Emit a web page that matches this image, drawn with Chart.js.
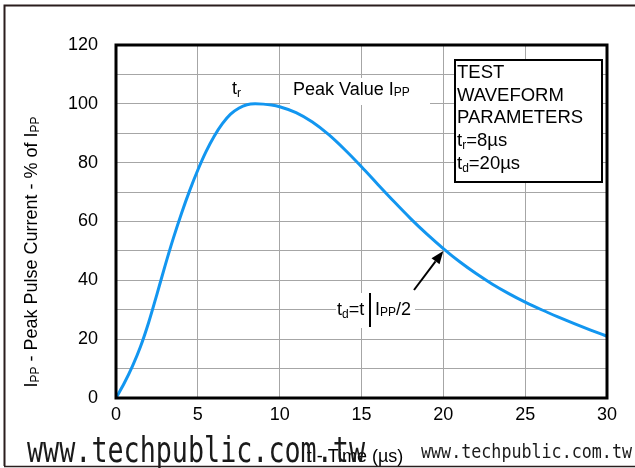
<!DOCTYPE html>
<html>
<head>
<meta charset="utf-8">
<script src="https://cdn.jsdelivr.net/npm/chart.js@4.4.1/dist/chart.umd.min.js"></script>
<style>
html,body{margin:0;padding:0;background:#fff;}
canvas{display:block;}
</style>
</head>
<body>
<canvas id="c" width="635" height="468"></canvas>
<script>
// ---- data ----
const times  = [0, 0.5, 1, 1.5, 2, 2.5, 3, 3.5, 4, 4.5, 5, 5.5, 6, 6.5, 7, 7.5, 8, 8.5, 9, 9.5, 10, 11, 12, 13, 14, 15, 16, 17, 18, 19, 20, 21, 22, 23, 24, 25, 26, 27, 28, 29, 30];
const values = [0, 5, 10.75, 17.5, 25.75, 35.25, 45, 54.25, 62.75, 70.5, 77.5, 83.75, 89, 93.25, 96.5, 98.5, 99.7, 100, 99.9, 99.6, 99, 97, 93.8, 89.5, 84.3, 78.6, 72.6, 66.7, 61, 55.7, 50.8, 46.3, 42.3, 38.7, 35.5, 32.6, 30, 27.6, 25.3, 23.1, 21];
const xTickValues = [0, 5, 10, 15, 20, 25, 30];
const yTickLabels = [0, 20, 40, 60, 80, 100, 120];
const boxLines = ["TEST", "WAVEFORM", "PARAMETERS"];
const riseTime = "8µs";
const decayTime = "20µs";

const FONT = "'Liberation Sans', Arial, sans-serif";

function rich(ctx, x, y, segs, align) {
  let w = 0;
  segs.forEach(s => { ctx.font = s[1] + "px " + FONT; w += ctx.measureText(s[0]).width; });
  let cx = align === 'center' ? x - w / 2 : x;
  segs.forEach(s => {
    ctx.font = s[1] + "px " + FONT;
    ctx.fillText(s[0], cx, y + (s[2] || 0));
    cx += ctx.measureText(s[0]).width;
  });
  return w;
}

function watermark(ctx, text, x, baseline, size, targetW, sy) {
  ctx.save();
  ctx.font = size + "px 'DejaVu Sans Mono', monospace";
  const mw = ctx.measureText(text).width;
  ctx.translate(x, baseline);
  ctx.scale(targetW / mw, sy);
  ctx.fillStyle = '#1a1a1a';
  ctx.textAlign = 'left';
  ctx.textBaseline = 'alphabetic';
  ctx.fillText(text, 0, 0);
  ctx.restore();
}

const deco = {
  id: 'deco',
  beforeDatasetsDraw(chart) {
    const ctx = chart.ctx;
    ctx.save();
    ctx.fillStyle = '#fff';
    ctx.fillRect(290, 78, 140, 27);
    ctx.fillRect(336, 293, 79, 35);
    ctx.fillStyle = '#000';
    ctx.textBaseline = 'alphabetic';
    rich(ctx, 232, 94, [["t", 18, 0], ["r", 12, 3]]);
    rich(ctx, 293, 95, [["Peak Value I", 18, 0], ["PP", 12, 1]]);
    rich(ctx, 337, 315, [["t", 18, 0], ["d", 12, 3], ["=t", 18, 0]]);
    ctx.fillRect(369, 293, 2, 34);
    rich(ctx, 375, 315, [["I", 18, 0], ["PP", 12, 1], ["/2", 18, 0]]);
    ctx.restore();
  },
  afterDraw(chart) {
    const ctx = chart.ctx;
    const a = chart.chartArea;
    const xs = chart.scales.x, ys = chart.scales.y;
    ctx.save();
    ctx.strokeStyle = '#000';
    ctx.lineWidth = 3;
    ctx.strokeRect(a.left, a.top, a.right - a.left, a.bottom - a.top);

    // arrow to half value point
    const tx = xs.getPixelForValue(20), ty = ys.getPixelForValue(50);
    const sx = 414, sy = 290;
    const ang = Math.atan2(ty - sy, tx - sx);
    const hl = 13, hw = 5;
    const bx = tx - hl * Math.cos(ang), by = ty - hl * Math.sin(ang);
    ctx.lineWidth = 2;
    ctx.beginPath(); ctx.moveTo(sx, sy); ctx.lineTo(bx, by); ctx.stroke();
    ctx.beginPath();
    ctx.moveTo(tx, ty);
    ctx.lineTo(bx + hw * Math.sin(ang), by - hw * Math.cos(ang));
    ctx.lineTo(bx - hw * Math.sin(ang), by + hw * Math.cos(ang));
    ctx.closePath(); ctx.fillStyle = '#000'; ctx.fill();

    // parameter box
    ctx.fillStyle = '#fff';
    ctx.fillRect(455, 60, 147, 122);
    ctx.lineWidth = 2;
    ctx.strokeStyle = '#000';
    ctx.strokeRect(455, 60, 147, 122);
    ctx.fillStyle = '#000';
    ctx.textBaseline = 'alphabetic';
    ctx.font = "18.5px " + FONT;
    boxLines.forEach((l, i) => ctx.fillText(l, 457, 78 + i * 22.7));
    rich(ctx, 457, 78 + 3 * 22.7, [["t", 18.5, 0], ["r", 12, 3], ["=" + riseTime, 18.5, 0]]);
    rich(ctx, 457, 78 + 4 * 22.7, [["t", 18.5, 0], ["d", 12, 3], ["=" + decayTime, 18.5, 0]]);

    // y axis title (rotated)
    ctx.save();
    ctx.translate(37, 252);
    ctx.rotate(-Math.PI / 2);
    rich(ctx, 0, 0, [["I", 18, 0], ["PP", 12, 2], [" - Peak Pulse Current - % of I", 18, 0], ["PP", 12, 2]], 'center');
    ctx.restore();

    // x axis title
    rich(ctx, 355, 462, [["t - Time (µs)", 18, 0]], 'center');

    // watermarks
    watermark(ctx, "www.techpublic.com.tw", 27, 462, 28, 338, 1.25);
    watermark(ctx, "www.techpublic.com.tw", 421, 458, 16, 211, 1.2);

    // outer page border
    ctx.strokeStyle = '#2a1d1d';
    ctx.lineWidth = 2;
    ctx.beginPath();
    ctx.moveTo(4.5, 466); ctx.lineTo(4.5, 5.5); ctx.lineTo(635, 5.5);
    ctx.stroke();
    ctx.lineWidth = 1.5;
    ctx.beginPath(); ctx.moveTo(4, 466.5); ctx.lineTo(635, 466.5); ctx.stroke();
    ctx.restore();
  }
};

new Chart(document.getElementById('c'), {
  type: 'line',
  data: {
    datasets: [{
      data: times.map((t, i) => ({ x: t, y: values[i] })),
      borderColor: '#1296f0',
      borderWidth: 3,
      pointRadius: 0,
      fill: false,
      cubicInterpolationMode: 'monotone'
    }]
  },
  options: {
    responsive: false,
    animation: false,
    layout: { padding: { top: 45, right: 28, left: 0, bottom: 0 } },
    plugins: { legend: { display: false }, tooltip: { enabled: false } },
    scales: {
      x: {
        type: 'linear', min: 0, max: 30,
        afterBuildTicks: s => { s.ticks = xTickValues.map(v => ({ value: v })); },
        ticks: { color: '#000', font: { size: 18, family: FONT }, padding: 6, maxRotation: 0, autoSkip: false },
        grid: { color: '#a6a6a6', lineWidth: 1, drawTicks: false },
        border: { display: false },
        afterFit: s => { s.height = 70; }
      },
      y: {
        type: 'linear', min: 0, max: 120,
        ticks: {
          stepSize: 10, autoSkip: false, color: '#000', font: { size: 18, family: FONT }, padding: 18,
          callback: v => (yTickLabels.includes(v) ? String(v) : '')
        },
        grid: { color: '#a6a6a6', lineWidth: 1, drawTicks: false },
        border: { display: false },
        afterFit: s => { s.width = 116; }
      }
    }
  },
  plugins: [deco]
});
</script>
</body>
</html>
